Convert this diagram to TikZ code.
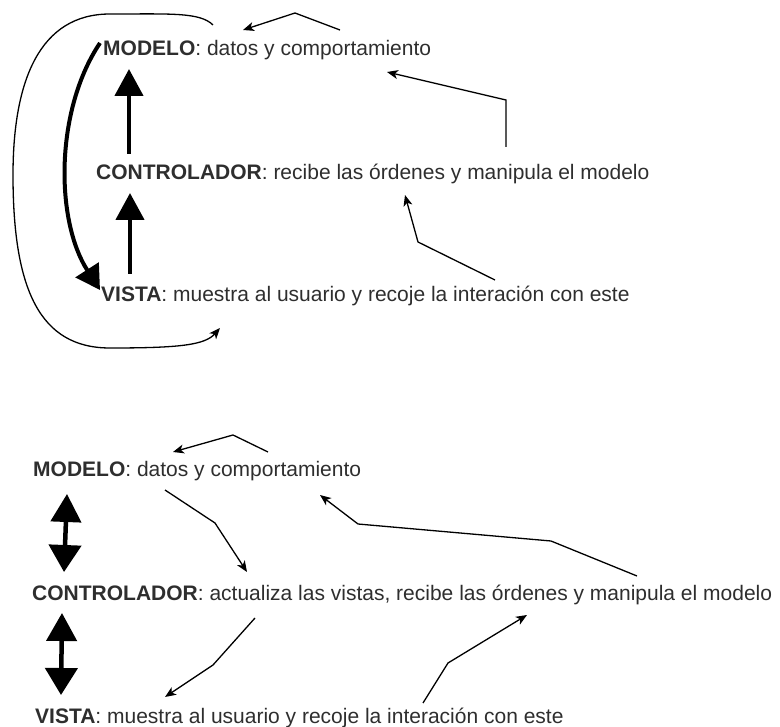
\documentclass[tikz,border=0pt]{standalone}
\usepackage{fontspec}
\setmainfont{Liberation Sans}
\usetikzlibrary{arrows.meta}
\definecolor{txt}{HTML}{2E2E2E}
\tikzset{
  lbl/.style={anchor=base west, inner sep=0pt, text=txt, font=\fontsize{21}{25}\selectfont},
  thin/.style={line width=1.3pt, -{Stealth[length=11pt,width=9pt,inset=3pt]}},
  thick/.style={line width=4.5pt, -{Triangle[length=27pt,width=28pt]}},
  dthick/.style={line width=4.5pt, {Triangle[length=28pt,width=30pt]}-{Triangle[length=27pt,width=32pt]}},
}
\begin{document}
\begin{tikzpicture}[x=1pt,y=-1pt]
\useasboundingbox (0,0) rectangle (780,727);
% ---------- top diagram ----------
\node[lbl] (m1) at (103,56) {\textbf{MODELO}: datos y comportamiento};
\node[lbl] (c1) at (96,180) {\textbf{CONTROLADOR}: recibe las órdenes y manipula el modelo};
\node[lbl] (v1) at (101,302) {\textbf{VISTA}: muestra al usuario y recoje la interación con este};

\coordinate (mL) at (100,43);
\coordinate (vL) at (100,290);
\draw[line width=4pt, -{Triangle[length=24pt,width=27pt]}] (mL) .. controls (55,110) and (55,220) .. (vL);

\coordinate (c1s) at (129,154); \coordinate (m1e) at (129,69);
\draw[thick] (c1s) -- (m1e);
\coordinate (v1s) at (130,274); \coordinate (c1e) at (130,193);
\draw[thick] (v1s) -- (c1e);

\coordinate (loopS) at (213,25);
\coordinate (loopE) at (220,328);
\draw[line width=1.3pt, -{Stealth[length=11pt,width=9pt,inset=3pt]}]
  (loopS) .. controls (200,12) and (170,14) .. (110,14)
  .. controls (40,14) and (13,80) .. (13,175)
  .. controls (13,290) and (40,348) .. (110,348)
  .. controls (180,348) and (205,345) .. (loopE);

\coordinate (a5s) at (340,30); \coordinate (a5e) at (243,30);
\draw[thin] (a5s) -- (295,13) -- (a5e);
\coordinate (a6s) at (506,147); \coordinate (a6e) at (387,72);
\draw[thin] (a6s) -- (506,100) -- (a6e);
\coordinate (a7s) at (495,280); \coordinate (a7e) at (405,195);
\draw[thin] (a7s) -- (418,242) -- (a7e);

% ---------- bottom diagram ----------
\node[lbl] (m2) at (33,477) {\textbf{MODELO}: datos y comportamiento};
\node[lbl] (c2) at (32,600) {\textbf{CONTROLADOR}: actualiza las vistas, recibe las órdenes y manipula el modelo};
\node[lbl] (v2) at (35,723) {\textbf{VISTA}: muestra al usuario y recoje la interación con este};

\coordinate (d1a) at (67,494); \coordinate (d1b) at (64,572);
\draw[dthick] (d1a) -- (d1b);
\coordinate (d2a) at (62,613); \coordinate (d2b) at (61,695);
\draw[dthick] (d2a) -- (d2b);

\coordinate (b1s) at (268,452); \coordinate (b1e) at (173,452);
\draw[thin] (b1s) -- (233,435) -- (b1e);
\coordinate (b2s) at (165,490); \coordinate (b2e) at (247,572);
\draw[thin] (b2s) -- (215,523) -- (b2e);
\coordinate (b3s) at (637,576); \coordinate (b3e) at (320,495);
\draw[thin] (b3s) -- (551,541) -- (358,524) -- (b3e);
\coordinate (b4s) at (255,618); \coordinate (b4e) at (165,697);
\draw[thin] (b4s) -- (213,665) -- (b4e);
\coordinate (b5s) at (423,703); \coordinate (b5e) at (527,615);
\draw[thin] (b5s) -- (448,663) -- (b5e);
\end{tikzpicture}
\end{document}
